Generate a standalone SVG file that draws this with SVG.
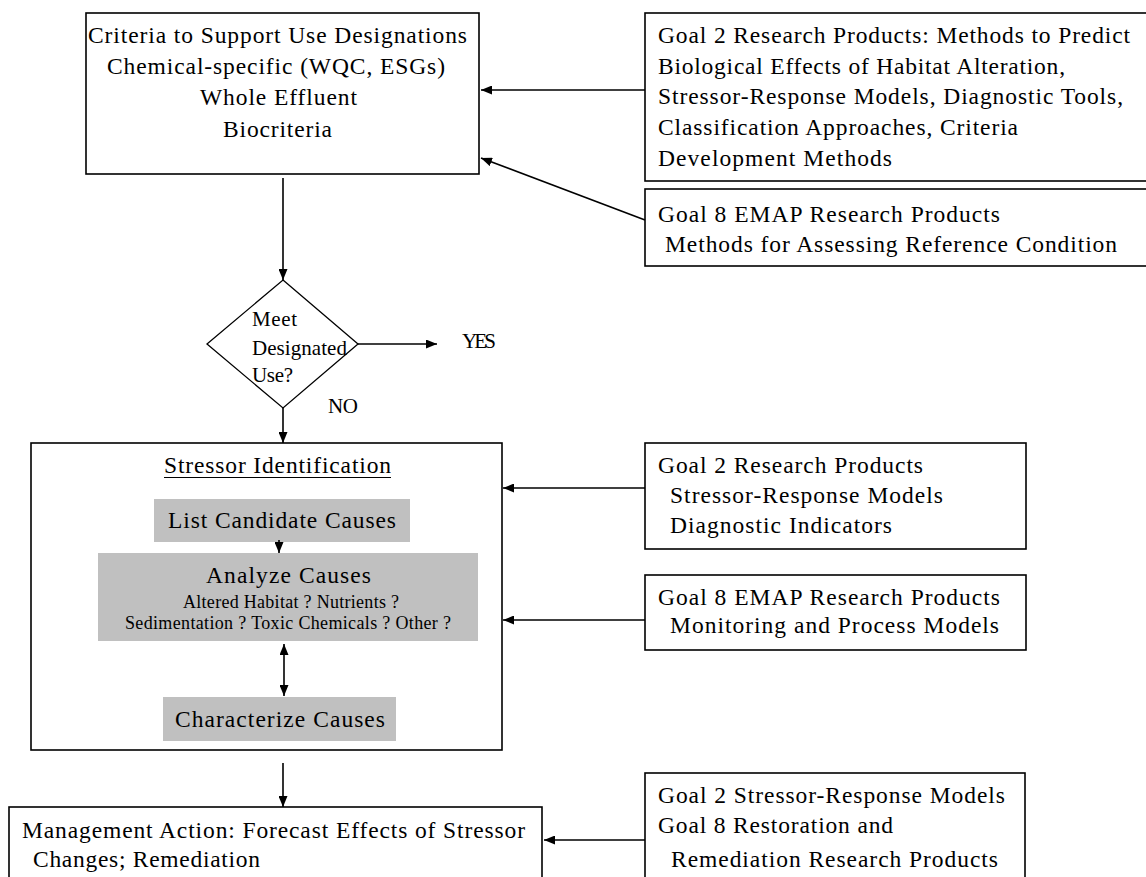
<svg xmlns="http://www.w3.org/2000/svg" width="1146" height="877" viewBox="0 0 1146 877">
<style>
.box{fill:#fff;stroke:#000;stroke-width:1.6}
.gray{fill:#c0c0c0;stroke:none}
.con line{stroke:#000;stroke-width:1.6;fill:none}
</style>
<defs>
<marker id="ah" viewBox="0 0 11 9" refX="11" refY="4.5" markerWidth="11" markerHeight="9" markerUnits="userSpaceOnUse" orient="auto-start-reverse">
<path d="M0,0 L11,4.5 L0,9 z" fill="#000"/>
</marker>
</defs>
<rect width="1146" height="877" fill="#fff"/>

<g font-family="Liberation Serif, Times New Roman, serif" font-size="23.5" fill="#000">
<g id="criteria">
<rect class="box" x="86" y="13" width="393" height="161"/>
<text x="88" y="43" textLength="379">Criteria to Support Use Designations</text>
<text x="107" y="74" textLength="338">Chemical-specific (WQC, ESGs)</text>
<text x="200" y="105" textLength="157">Whole Effluent</text>
<text x="223" y="137" textLength="109">Biocriteria</text>
</g>

<g id="goal2-top">
<rect class="box" x="645" y="13" width="510" height="168"/>
<text x="658" y="43" textLength="472">Goal 2 Research Products: Methods to Predict</text>
<text x="658" y="74" textLength="407">Biological Effects of Habitat Alteration,</text>
<text x="658" y="104" textLength="465">Stressor-Response Models, Diagnostic Tools,</text>
<text x="658" y="135" textLength="360">Classification Approaches, Criteria</text>
<text x="658" y="166" textLength="234">Development Methods</text>
</g>

<g id="goal8-top">
<rect class="box" x="645" y="189" width="510" height="77"/>
<text x="658" y="222" textLength="342">Goal 8 EMAP Research Products</text>
<text x="665" y="252" textLength="452">Methods for Assessing Reference Condition</text>
</g>

<g id="decision" font-size="21">
<polygon points="283,280 358,344 283,408 207,344" fill="#fff" stroke="#000" stroke-width="1.3"/>
<text x="252" y="326" textLength="45">Meet</text>
<text x="252" y="355" textLength="95">Designated</text>
<text x="252" y="382" textLength="41">Use?</text>
</g>

<g id="yes" font-size="21"><text x="462" y="348" textLength="34">YES</text></g>
<g id="no" font-size="21"><text x="328" y="413" textLength="30">NO</text></g>

<g id="stressor-id">
<rect class="box" x="31" y="443" width="471" height="307"/>
<text x="164" y="473" textLength="227">Stressor Identification</text>
<line x1="164" y1="477.5" x2="391" y2="477.5" stroke="#000" stroke-width="1.2"/>
</g>

<g id="list-causes">
<rect class="gray" x="154" y="499" width="256" height="43"/>
<text x="168" y="528" textLength="228">List Candidate Causes</text>
</g>

<g id="analyze-causes">
<rect class="gray" x="98" y="553" width="380" height="88"/>
<text x="206" y="583" textLength="165">Analyze Causes</text>
<text font-size="18" x="183" y="608" textLength="216">Altered Habitat ? Nutrients ?</text>
<text font-size="18" x="125" y="629" textLength="326">Sedimentation ? Toxic Chemicals ? Other ?</text>
</g>

<g id="characterize-causes">
<rect class="gray" x="163" y="697" width="233" height="44"/>
<text x="175" y="727" textLength="210">Characterize Causes</text>
</g>

<g id="goal2-mid">
<rect class="box" x="645" y="443" width="381" height="106"/>
<text x="658" y="473" textLength="265">Goal 2 Research Products</text>
<text x="670" y="503" textLength="273">Stressor-Response Models</text>
<text x="670" y="533" textLength="222">Diagnostic Indicators</text>
</g>

<g id="goal8-mid">
<rect class="box" x="645" y="575" width="381" height="75"/>
<text x="658" y="605" textLength="342">Goal 8 EMAP Research Products</text>
<text x="670" y="633" textLength="329">Monitoring and Process Models</text>
</g>

<g id="management">
<rect class="box" x="9" y="807" width="533" height="80"/>
<text x="22" y="838" textLength="503">Management Action: Forecast Effects of Stressor</text>
<text x="33" y="867" textLength="227">Changes; Remediation</text>
</g>

<g id="goal2-bottom">
<rect class="box" x="645" y="773" width="380" height="114"/>
<text x="658" y="803" textLength="347">Goal 2 Stressor-Response Models</text>
<text x="658" y="833" textLength="235">Goal 8 Restoration and</text>
<text x="671" y="867" textLength="327">Remediation Research Products</text>
</g>
</g>

<g id="connectors" class="con">
<line x1="645" y1="90" x2="481" y2="90" marker-end="url(#ah)"/>
<line x1="645" y1="220" x2="481" y2="158" marker-end="url(#ah)"/>
<line x1="283" y1="178" x2="283" y2="280" marker-end="url(#ah)"/>
<line x1="358" y1="344" x2="437" y2="344" marker-end="url(#ah)"/>
<line x1="283" y1="408" x2="283" y2="443" marker-end="url(#ah)"/>
<line x1="279" y1="540" x2="279" y2="553" marker-end="url(#ah)"/>
<line x1="284" y1="644" x2="284" y2="696" marker-start="url(#ah)" marker-end="url(#ah)"/>
<line x1="645" y1="488" x2="503" y2="488" marker-end="url(#ah)"/>
<line x1="645" y1="620" x2="503" y2="620" marker-end="url(#ah)"/>
<line x1="283" y1="763" x2="283" y2="807" marker-end="url(#ah)"/>
<line x1="645" y1="840" x2="544" y2="840" marker-end="url(#ah)"/>
</g>
</svg>
